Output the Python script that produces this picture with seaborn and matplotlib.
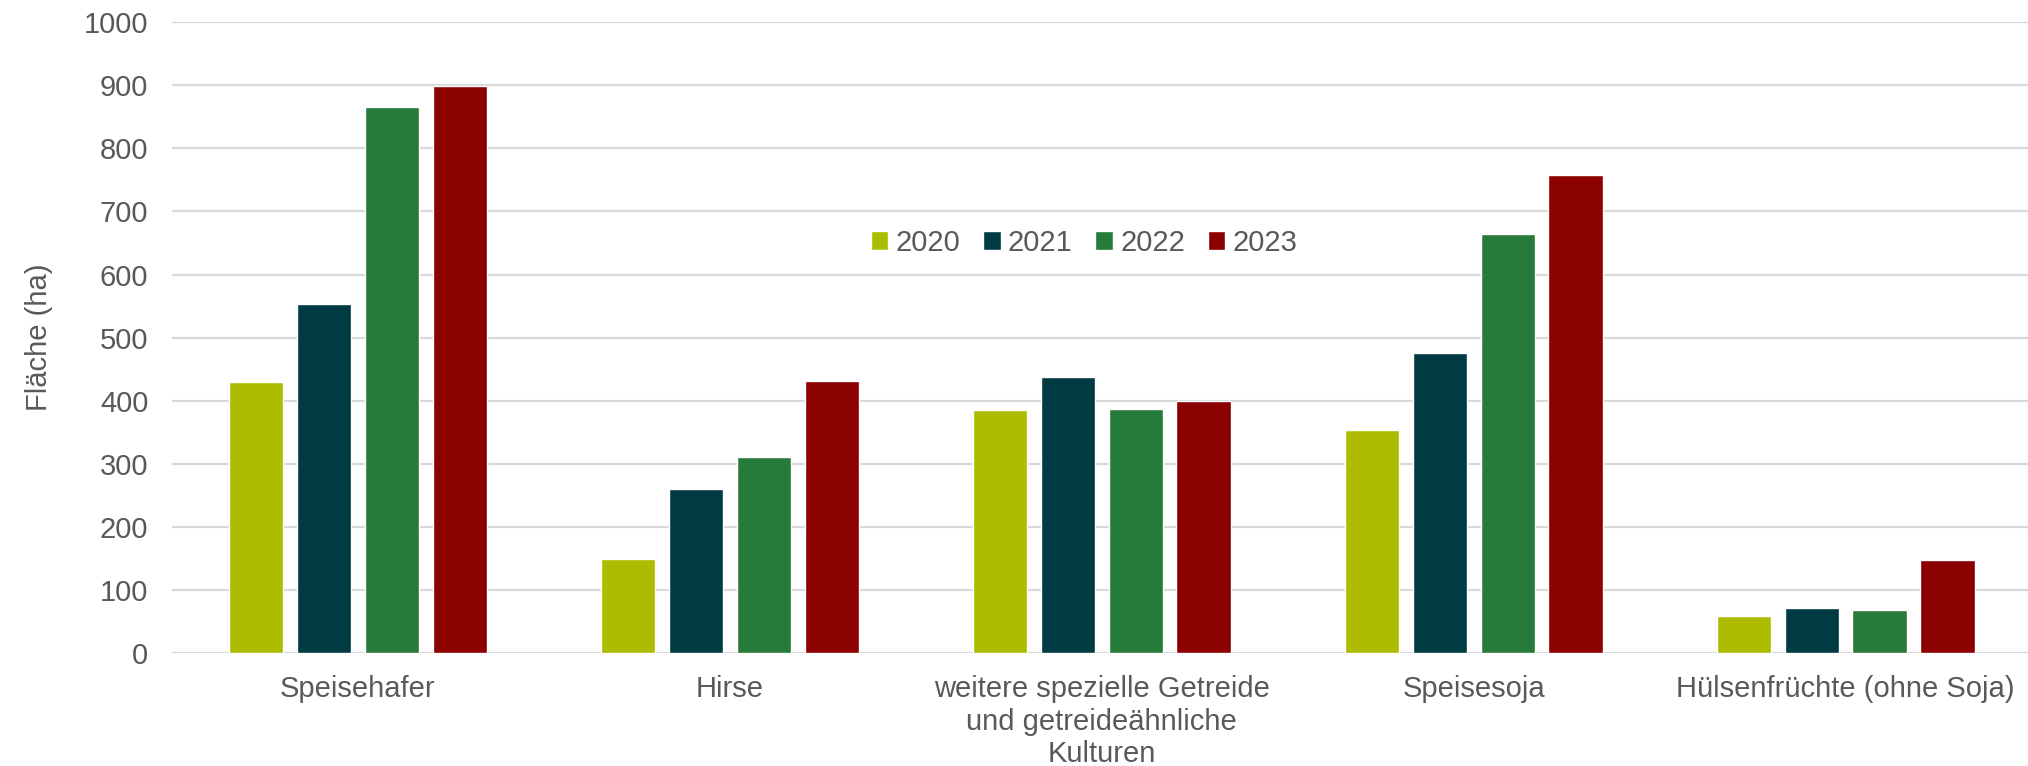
import matplotlib
matplotlib.use("Agg")
import matplotlib.pyplot as plt
import seaborn as sns
import pandas as pd

categories = ["Speisehafer", "Hirse",
              "weitere spezielle Getreide\nund getreideähnliche\nKulturen",
              "Speisesoja", "Hülsenfrüchte (ohne Soja)"]
years = ["2020", "2021", "2022", "2023"]
v2020 = [430, 149, 386, 354, 59]
v2021 = [553, 260, 437, 475, 71]
v2022 = [865, 310, 387, 665, 68]
v2023 = [899, 432, 400, 758, 147]
colors = ["#AEBC00", "#003B44", "#267B3A", "#8B0000"]
yticks = [0, 100, 200, 300, 400, 500, 600, 700, 800, 900, 1000]

rows = []
for yr, vals in zip(years, [v2020, v2021, v2022, v2023]):
    for c, v in zip(categories, vals):
        rows.append({"Kategorie": c, "Jahr": yr, "Wert": v})
df = pd.DataFrame(rows)

sns.set_theme(style="white")
plt.rcParams["font.family"] = ["Liberation Sans", "DejaVu Sans"]
textc = "#595959"
fs = 21

fig = plt.figure(figsize=(20.28, 7.66), dpi=100)
ax = fig.add_axes([0.0848, 0.1475, 0.917, 0.8235])

sns.barplot(data=df, x="Kategorie", y="Wert", hue="Jahr", order=categories,
            hue_order=years, palette=colors, width=0.73, gap=0.2,
            saturation=1, ax=ax, errorbar=None)

ax.set_ylim(0, 1000)
ax.set_xlim(-0.5, len(categories) - 0.5)
ax.set_yticks(yticks)
ax.yaxis.grid(True, color="#d9d9d9", linewidth=1.6)
ax.set_axisbelow(True)
for s in ax.spines.values():
    s.set_visible(False)
ax.tick_params(axis="both", length=0, labelsize=fs, labelcolor=textc)
ax.tick_params(axis="y", pad=17)
ax.tick_params(axis="x", pad=16)
ax.set_xlabel("")
ax.set_ylabel("Fläche (ha)", fontsize=fs, color=textc, labelpad=22)

leg = ax.legend(loc="center", bbox_to_anchor=(0.4905, 0.65), ncol=4, frameon=False,
                fontsize=fs, handlelength=0.6, handleheight=0.6,
                handletextpad=0.25, columnspacing=0.78, labelcolor=textc)

fig.savefig("out.png", dpi=100)
